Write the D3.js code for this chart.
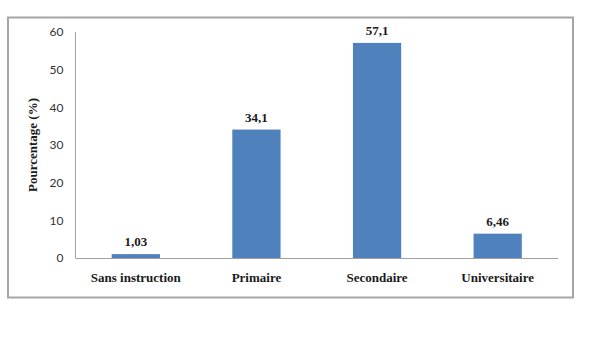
<!DOCTYPE html>
<html>
<head>
<meta charset="utf-8">
<script src="https://cdn.jsdelivr.net/npm/d3@7"></script>
<style>
  html, body { margin: 0; padding: 0; background: #fff; }
  svg { display: block; }
</style>
</head>
<body>
<svg id="chart" width="600" height="337"></svg>
<script>
// Niveau d'instruction (%)
const categories = ["Sans instruction", "Primaire", "Secondaire", "Universitaire"];
const values = [1.03, 34.1, 57.1, 6.46];
const valueLabels = ["1,03", "34,1", "57,1", "6,46"];
const yTicks = [0, 10, 20, 30, 40, 50, 60];

const svg = d3.select("#chart");

// outer chart frame
svg.append("rect")
  .attr("x", 8).attr("y", 17.5)
  .attr("width", 565).attr("height", 280)
  .attr("fill", "#fff")
  .attr("stroke", "#a6a6a6")
  .attr("stroke-width", 2);

const plot = { left: 75.5, right: 558, top: 32, bottom: 258 };

const x = d3.scaleBand()
  .domain(categories)
  .range([plot.left, plot.right])
  .paddingInner(0.6)
  .paddingOuter(0.3);

const y = d3.scaleLinear()
  .domain([0, 60])
  .range([plot.bottom, plot.top]);

// y axis line and tick labels
svg.append("line")
  .attr("x1", plot.left).attr("x2", plot.left)
  .attr("y1", y(60)).attr("y2", y(0))
  .attr("stroke", "#a0a0a0").attr("stroke-width", 1);

const yAxis = svg.append("g")
  .attr("transform", `translate(${plot.left},0)`)
  .call(d3.axisLeft(y).tickValues(yTicks).tickSize(0).tickPadding(12));
yAxis.select(".domain").remove();
yAxis.selectAll("text")
  .attr("font-family", "Lato, 'Open Sans', sans-serif")
  .attr("font-size", 12)
  .attr("fill", "#333");

// bars
svg.append("g").selectAll("rect")
  .data(values)
  .join("rect")
  .attr("x", (d, i) => x(categories[i]))
  .attr("width", x.bandwidth())
  .attr("y", d => y(d))
  .attr("height", d => y(0) - y(d))
  .attr("fill", "#4f81bd");

// x axis baseline
svg.append("line")
  .attr("x1", plot.left).attr("x2", plot.right)
  .attr("y1", y(0) + 0.5).attr("y2", y(0) + 0.5)
  .attr("stroke", "#a0a0a0").attr("stroke-width", 1);

// value labels
svg.append("g").selectAll("text")
  .data(values)
  .join("text")
  .attr("x", (d, i) => x(categories[i]) + x.bandwidth() / 2)
  .attr("y", d => y(d) - 8)
  .attr("text-anchor", "middle")
  .attr("font-family", "'Liberation Serif', 'Times New Roman', serif")
  .attr("font-weight", "bold")
  .attr("font-size", 13)
  .attr("fill", "#1a1a1a")
  .text((d, i) => valueLabels[i]);

// category labels
svg.append("g").selectAll("text")
  .data(categories)
  .join("text")
  .attr("x", d => x(d) + x.bandwidth() / 2)
  .attr("y", 282)
  .attr("text-anchor", "middle")
  .attr("font-family", "'Liberation Serif', 'Times New Roman', serif")
  .attr("font-weight", "bold")
  .attr("font-size", 13)
  .attr("fill", "#1a1a1a")
  .text(d => d);

// y axis title
svg.append("text")
  .attr("transform", `translate(37,${(plot.top + plot.bottom) / 2}) rotate(-90)`)
  .attr("text-anchor", "middle")
  .attr("font-family", "'Liberation Serif', 'Times New Roman', serif")
  .attr("font-weight", "bold")
  .attr("font-size", 13)
  .attr("fill", "#1a1a1a")
  .text("Pourcentage (%)");
</script>
</body>
</html>
